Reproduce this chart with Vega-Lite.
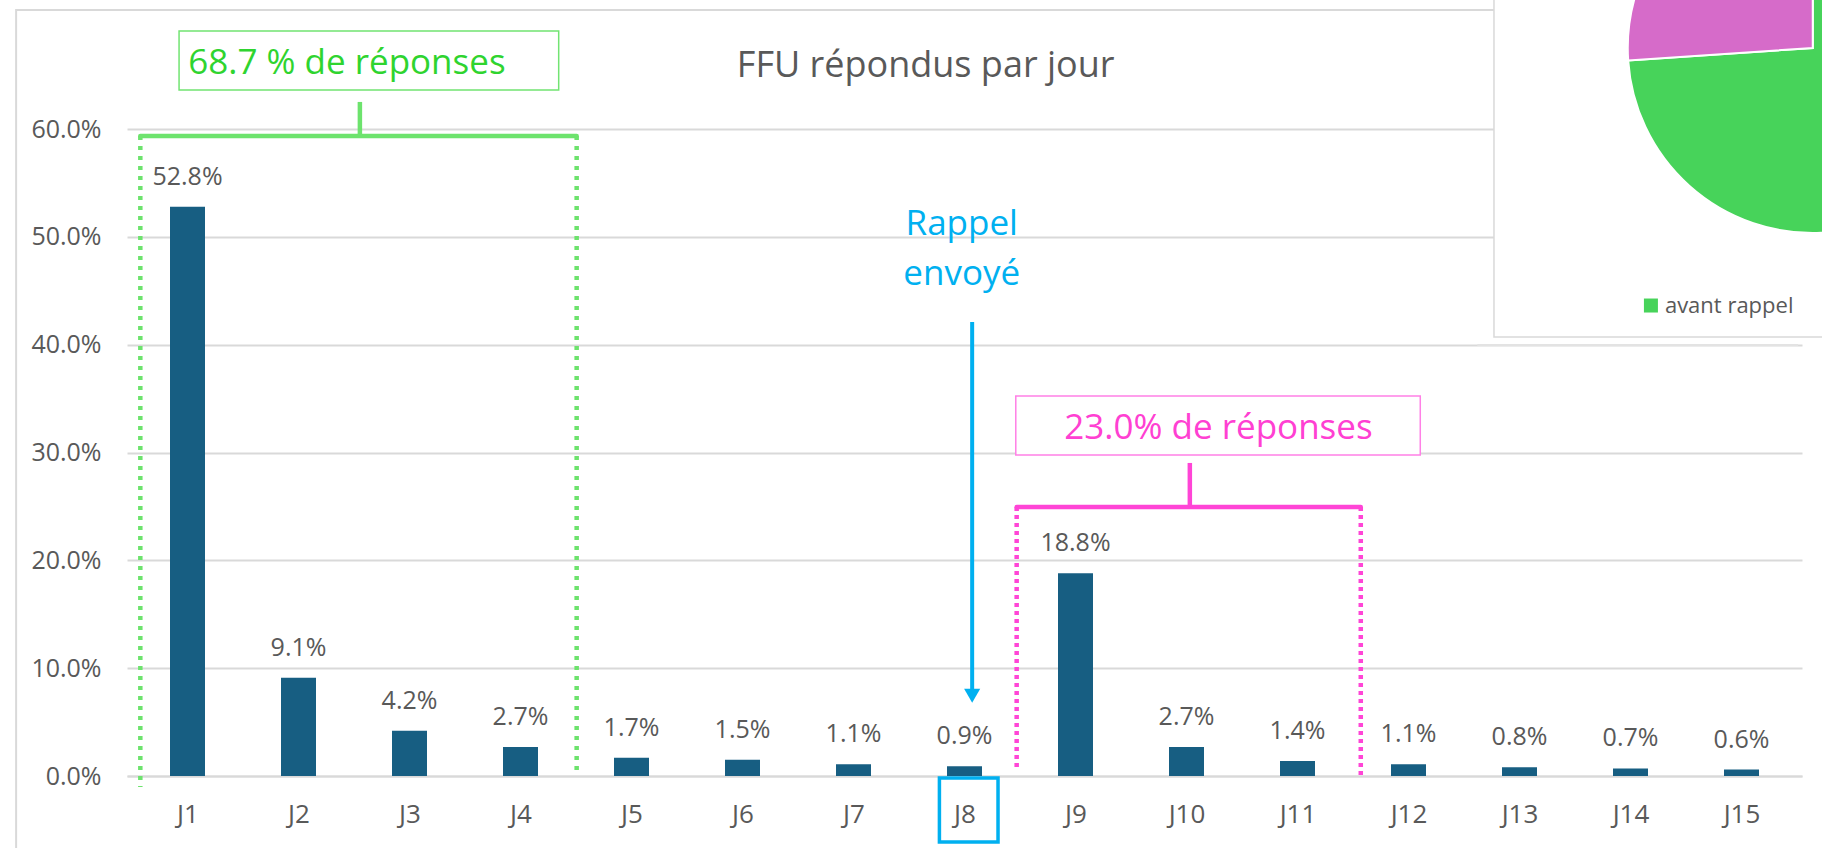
{
  "$schema": "https://vega.github.io/schema/vega-lite/v6.json",
  "width": 1675,
  "height": 647,
  "autosize": {"type": "none"},
  "padding": {"left": 127, "top": 129, "right": 20, "bottom": 72},
  "background": "white",
  "config": {"font": "Open Sans", "view": {"stroke": null}},
  "layer": [
    {
      "data": {"values": [{}]},
      "mark": {"type": "rect", "fill": "white", "fillOpacity": 0, "stroke": "#d9d9d9", "strokeWidth": 2},
      "encoding": {
        "x": {"datum": -0.544, "type": "quantitative"},
        "x2": {"datum": 17},
        "y": {"datum": 0.7104, "type": "quantitative"},
        "y2": {"datum": -0.2}
      }
    },
    {
      "data": {"values": [
        {"jour": 1, "pct": 0.528}, {"jour": 2, "pct": 0.091}, {"jour": 3, "pct": 0.042},
        {"jour": 4, "pct": 0.027}, {"jour": 5, "pct": 0.017}, {"jour": 6, "pct": 0.015},
        {"jour": 7, "pct": 0.011}, {"jour": 8, "pct": 0.009}, {"jour": 9, "pct": 0.188},
        {"jour": 10, "pct": 0.027}, {"jour": 11, "pct": 0.014}, {"jour": 12, "pct": 0.011},
        {"jour": 13, "pct": 0.008}, {"jour": 14, "pct": 0.007}, {"jour": 15, "pct": 0.006}
      ]},
      "layer": [
        {
          "mark": {"type": "bar", "size": 35, "color": "#175e82"},
          "encoding": {
            "x": {"field": "jour", "type": "quantitative",
              "scale": {"domain": [0.5, 15.5], "nice": false, "zero": false},
              "axis": {"title": null, "values": [1,2,3,4,5,6,7,8,9,10,11,12,13,14,15],
                "labelExpr": "'J' + datum.value", "grid": false, "domain": true,
                "domainColor": "#d9d9d9", "domainWidth": 2, "ticks": false, "tickSize": 0,
                "labelPadding": 46, "labelBaseline": "alphabetic", "labelFontSize": 26,
                "labelColor": "#595959", "labelFont": "Open Sans"}},
            "y": {"field": "pct", "type": "quantitative",
              "scale": {"domain": [0, 0.6], "nice": false},
              "axis": {"title": null, "values": [0, 0.1, 0.2, 0.3, 0.4, 0.5, 0.6],
                "format": ".1%", "grid": true, "gridColor": "#d9d9d9", "gridWidth": 2,
                "domain": false, "ticks": false, "tickSize": 0, "labelPadding": 26,
                "labelFontSize": 25, "labelColor": "#595959", "labelFont": "Open Sans"}}
          }
        },
        {
          "mark": {"type": "text", "baseline": "alphabetic", "dy": -22, "fontSize": 25, "color": "#595959"},
          "encoding": {
            "x": {"field": "jour", "type": "quantitative"},
            "y": {"field": "pct", "type": "quantitative"},
            "text": {"field": "pct", "type": "quantitative", "format": ".1%"}
          }
        }
      ]
    },
    {
      "data": {"values": [{"titre": "FFU répondus par jour"}]},
      "mark": {"type": "text", "align": "center", "baseline": "alphabetic", "fontSize": 36, "color": "#595959"},
      "encoding": {
        "x": {"datum": 7.65, "type": "quantitative"},
        "y": {"datum": 0.6482, "type": "quantitative"},
        "text": {"field": "titre"}
      }
    },
    {
      "data": {"values": [{}]},
      "mark": {"type": "rect", "fill": "white", "stroke": "#72e472", "strokeWidth": 1.5},
      "encoding": {
        "x": {"datum": 0.924, "type": "quantitative"}, "x2": {"datum": 4.344},
        "y": {"datum": 0.6909, "type": "quantitative"}, "y2": {"datum": 0.6362}
      }
    },
    {
      "data": {"values": [{"label": "68.7 % de réponses"}]},
      "mark": {"type": "text", "align": "left", "baseline": "alphabetic", "fontSize": 35, "color": "#2fd42f"},
      "encoding": {
        "x": {"datum": 1.006, "type": "quantitative"},
        "y": {"datum": 0.651, "type": "quantitative"},
        "text": {"field": "label"}
      }
    },
    {
      "data": {"values": [{}]},
      "mark": {"type": "rule", "stroke": "#6de36d", "strokeWidth": 4.5, "strokeCap": "round"},
      "encoding": {
        "x": {"datum": 0.575, "type": "quantitative"}, "x2": {"datum": 4.506},
        "y": {"datum": 0.5935, "type": "quantitative"}
      }
    },
    {
      "data": {"values": [{}]},
      "mark": {"type": "rule", "stroke": "#6de36d", "strokeWidth": 4.5},
      "encoding": {
        "x": {"datum": 2.553, "type": "quantitative"},
        "y": {"datum": 0.5935, "type": "quantitative"}, "y2": {"datum": 0.6251}
      }
    },
    {
      "data": {"values": [{}]},
      "mark": {"type": "rule", "stroke": "#6de36d", "strokeWidth": 4.5, "strokeDash": [4, 6]},
      "encoding": {
        "x": {"datum": 0.575, "type": "quantitative"},
        "y": {"datum": 0.5935, "type": "quantitative"}, "y2": {"datum": -0.0102}
      }
    },
    {
      "data": {"values": [{}]},
      "mark": {"type": "rule", "stroke": "#6de36d", "strokeWidth": 4.5, "strokeDash": [4, 6]},
      "encoding": {
        "x": {"datum": 4.506, "type": "quantitative"},
        "y": {"datum": 0.5935, "type": "quantitative"}, "y2": {"datum": 0}
      }
    },
    {
      "data": {"values": [{}]},
      "mark": {"type": "rect", "fill": "white", "stroke": "#ff80e6", "strokeWidth": 1.5},
      "encoding": {
        "x": {"datum": 8.462, "type": "quantitative"}, "x2": {"datum": 12.106},
        "y": {"datum": 0.3524, "type": "quantitative"}, "y2": {"datum": 0.2977}
      }
    },
    {
      "data": {"values": [{"label": "23.0% de réponses"}]},
      "mark": {"type": "text", "align": "center", "baseline": "alphabetic", "fontSize": 35, "color": "#ff40d2"},
      "encoding": {
        "x": {"datum": 10.288, "type": "quantitative"},
        "y": {"datum": 0.3125, "type": "quantitative"},
        "text": {"field": "label"}
      }
    },
    {
      "data": {"values": [{}]},
      "mark": {"type": "rule", "stroke": "#ff45d6", "strokeWidth": 4.5, "strokeCap": "round"},
      "encoding": {
        "x": {"datum": 8.47, "type": "quantitative"}, "x2": {"datum": 11.57},
        "y": {"datum": 0.2495, "type": "quantitative"}
      }
    },
    {
      "data": {"values": [{}]},
      "mark": {"type": "rule", "stroke": "#ff45d6", "strokeWidth": 4.5},
      "encoding": {
        "x": {"datum": 10.03, "type": "quantitative"},
        "y": {"datum": 0.2495, "type": "quantitative"}, "y2": {"datum": 0.2903}
      }
    },
    {
      "data": {"values": [{}]},
      "mark": {"type": "rule", "stroke": "#ff45d6", "strokeWidth": 4.5, "strokeDash": [4, 4]},
      "encoding": {
        "x": {"datum": 8.47, "type": "quantitative"},
        "y": {"datum": 0.2495, "type": "quantitative"}, "y2": {"datum": 0.0083}
      }
    },
    {
      "data": {"values": [{}]},
      "mark": {"type": "rule", "stroke": "#ff45d6", "strokeWidth": 4.5, "strokeDash": [4, 4]},
      "encoding": {
        "x": {"datum": 11.57, "type": "quantitative"},
        "y": {"datum": 0.2495, "type": "quantitative"}, "y2": {"datum": 0.0}
      }
    },
    {
      "data": {"values": [{"label": "Rappel\nenvoyé"}]},
      "mark": {"type": "text", "align": "center", "baseline": "alphabetic", "fontSize": 35, "color": "#00b0f0", "lineBreak": "\n", "lineHeight": 50},
      "encoding": {
        "x": {"datum": 7.975, "type": "quantitative"},
        "y": {"datum": 0.5017, "type": "quantitative"},
        "text": {"field": "label"}
      }
    },
    {
      "data": {"values": [{}]},
      "mark": {"type": "rule", "stroke": "#00b0f0", "strokeWidth": 4},
      "encoding": {
        "x": {"datum": 8.069, "type": "quantitative"},
        "y": {"datum": 0.421, "type": "quantitative"}, "y2": {"datum": 0.08}
      }
    },
    {
      "data": {"values": [{}]},
      "mark": {"type": "point", "shape": "triangle-down", "filled": true, "size": 260, "color": "#00b0f0", "opacity": 1},
      "encoding": {
        "x": {"datum": 8.069, "type": "quantitative"},
        "y": {"datum": 0.0745, "type": "quantitative"}
      }
    },
    {
      "data": {"values": [{}]},
      "mark": {"type": "rect", "fillOpacity": 0, "fill": "white", "stroke": "#00b0f0", "strokeWidth": 3.5},
      "encoding": {
        "x": {"datum": 7.774, "type": "quantitative"}, "x2": {"datum": 8.302},
        "y": {"datum": -0.00185, "type": "quantitative"}, "y2": {"datum": -0.0612}
      }
    },
    {
      "data": {"values": [{}]},
      "mark": {"type": "rule", "stroke": "#e3e3e3", "strokeWidth": 2},
      "encoding": {
        "x": {"datum": 12.62, "type": "quantitative"}, "x2": {"datum": 15.51},
        "y": {"datum": 0.3997, "type": "quantitative"}
      }
    },
    {
      "data": {"values": [{}]},
      "mark": {"type": "rect", "fill": "white", "stroke": "#d9d9d9", "strokeWidth": 1.5},
      "encoding": {
        "x": {"datum": 12.77, "type": "quantitative"}, "x2": {"datum": 16.5},
        "y": {"datum": 0.4071, "type": "quantitative"}, "y2": {"datum": 0.75}
      }
    },
    {
      "data": {"values": [
        {"groupe": "avant rappel", "part": 74.0},
        {"groupe": "après rappel", "part": 26.1}
      ]},
      "mark": {"type": "arc", "radius": 185, "stroke": "white", "strokeWidth": 2},
      "encoding": {
        "x": {"datum": 15.642, "type": "quantitative"},
        "y": {"datum": 0.6751, "type": "quantitative"},
        "theta": {"field": "part", "type": "quantitative", "stack": true},
        "order": {"field": "groupe", "sort": "descending"},
        "color": {"field": "groupe", "type": "nominal",
          "scale": {"domain": ["avant rappel", "après rappel"], "range": ["#47d35a", "#d66bc9"]},
          "legend": null}
      }
    },
    {
      "data": {"values": [{}]},
      "mark": {"type": "point", "shape": "square", "filled": true, "size": 196, "color": "#47d35a", "opacity": 1},
      "encoding": {
        "x": {"datum": 14.184, "type": "quantitative"},
        "y": {"datum": 0.4363, "type": "quantitative"}
      }
    },
    {
      "data": {"values": [{"label": "avant rappel"}]},
      "mark": {"type": "text", "align": "left", "baseline": "middle", "fontSize": 22, "color": "#595959"},
      "encoding": {
        "x": {"datum": 14.31, "type": "quantitative"},
        "y": {"datum": 0.4363, "type": "quantitative"},
        "text": {"field": "label"}
      }
    }
  ]
}
